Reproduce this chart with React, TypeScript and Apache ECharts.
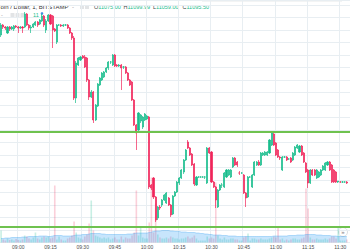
import React, { useEffect, useRef } from "react";
import * as echarts from "echarts";

// ---- Time axis (1-minute candles, first visible bar 08:52) ----
const START_MINUTE = 8 * 60 + 52;
const CATEGORY_COUNT = 163;
const timeLabels: string[] = Array.from({ length: CATEGORY_COUNT }, (_, i) => {
  const m = START_MINUTE + i;
  return `${String(Math.floor(m / 60)).padStart(2, "0")}:${String(m % 60).padStart(2, "0")}`;
});

// ---- OHLC (USD) ----
const opens = [
  11040, 11060, 11056, 11044, 11056, 11052, 11052, 11058, 11056, 11054,
  11056, 11056, 11082, 11060, 11054, 11056, 11060, 11066, 11062, 11068,
  11078, 11050, 11068, 11080, 11078, 11052, 11026, 11060, 11060, 11058,
  11060, 11060, 11054, 11044, 11034, 10914, 10980, 10990, 10998, 10996,
  10994, 10950, 10916, 10926, 10870, 10898, 10940, 10950, 10956, 10966,
  10974, 10986, 10980, 11000, 10980, 10978, 10980, 10976, 10976, 10964,
  10950, 10946, 10910, 10860, 10850, 10868, 10856, 10870, 10872, 10876,
  10740, 10754, 10716, 10674, 10696, 10700, 10710, 10704, 10714, 10700,
  10682, 10718, 10726, 10744, 10754, 10766, 10790, 10826, 10814, 10802,
  10782, 10740, 10756, 10756, 10756, 10756, 10744, 10814, 10806, 10746,
  10736, 10696, 10730, 10740, 10736, 10756, 10760, 10756, 10776, 10794,
  10786, 10764, 10764, 10760, 10724, 10716, 10756, 10736, 10760, 10780,
  10786, 10780, 10800, 10800, 10800, 10804, 10820, 10842, 10824, 10810,
  10796, 10770, 10796, 10796, 10792, 10794, 10790, 10800, 10814, 10806,
  10818, 10804, 10784, 10770, 10744, 10770, 10770, 10754, 10756, 10760,
  10770, 10770, 10780, 10786, 10780, 10770, 10766, 10746, 10746, 10746,
  10746, 10746,
];
const closes = [
  11060, 11056, 11054, 11056, 11052, 11056, 11058, 11056, 11054, 11056,
  11054, 11082, 11060, 11054, 11056, 11062, 11066, 11060, 11070, 11078,
  11060, 11068, 11080, 11062, 11050, 11048, 11060, 11060, 11058, 11060,
  11060, 11054, 11044, 11034, 10914, 10984, 10994, 10996, 10994, 10976,
  10950, 10916, 10926, 10870, 10900, 10942, 10954, 10964, 10966, 10974,
  10986, 10986, 11000, 10978, 10978, 10980, 10974, 10976, 10964, 10950,
  10940, 10910, 10860, 10844, 10884, 10880, 10876, 10882, 10878, 10736,
  10734, 10716, 10670, 10696, 10694, 10710, 10720, 10724, 10700, 10680,
  10718, 10726, 10746, 10754, 10770, 10790, 10810, 10814, 10800, 10780,
  10742, 10756, 10756, 10756, 10756, 10756, 10814, 10804, 10746, 10736,
  10710, 10730, 10740, 10740, 10764, 10770, 10770, 10770, 10794, 10780,
  10780, 10764, 10764, 10724, 10714, 10756, 10756, 10760, 10786, 10786,
  10780, 10804, 10804, 10806, 10806, 10830, 10844, 10820, 10800, 10796,
  10794, 10796, 10796, 10790, 10792, 10786, 10804, 10816, 10820, 10818,
  10800, 10786, 10766, 10744, 10770, 10760, 10760, 10770, 10766, 10770,
  10778, 10784, 10786, 10770, 10746, 10746, 10746, 10748, 10746, 10746,
  10746, 10744,
];
const lows = [
  11036, 11052, 11050, 11042, 11048, 11050, 11048, 11054, 11044, 11052,
  11044, 11054, 11058, 11050, 11044, 11054, 11058, 11056, 11060, 11066,
  11056, 11044, 11066, 11060, 11014, 11046, 11022, 11058, 11056, 11056,
  11058, 11052, 11042, 11030, 10910, 10904, 10978, 10988, 10992, 10974,
  10946, 10910, 10914, 10864, 10868, 10896, 10938, 10948, 10954, 10964,
  10970, 10982, 10978, 10976, 10976, 10976, 10930, 10972, 10962, 10948,
  10938, 10908, 10858, 10810, 10846, 10864, 10852, 10868, 10870, 10732,
  10730, 10712, 10666, 10670, 10690, 10696, 10708, 10702, 10698, 10676,
  10680, 10716, 10724, 10740, 10752, 10762, 10788, 10812, 10798, 10778,
  10738, 10738, 10754, 10754, 10754, 10752, 10742, 10802, 10744, 10734,
  10694, 10694, 10728, 10734, 10734, 10754, 10758, 10754, 10774, 10778,
  10776, 10760, 10762, 10722, 10696, 10714, 10754, 10734, 10758, 10778,
  10778, 10778, 10798, 10798, 10798, 10802, 10818, 10818, 10798, 10794,
  10790, 10768, 10794, 10788, 10790, 10784, 10788, 10798, 10812, 10804,
  10798, 10784, 10764, 10734, 10742, 10758, 10758, 10752, 10754, 10758,
  10768, 10768, 10778, 10768, 10744, 10744, 10744, 10744, 10744, 10744,
  10744, 10742,
];
const highs = [
  11064, 11062, 11058, 11058, 11058, 11058, 11060, 11060, 11058, 11058,
  11058, 11086, 11084, 11062, 11060, 11064, 11068, 11068, 11072, 11082,
  11080, 11072, 11082, 11082, 11080, 11054, 11062, 11062, 11062, 11062,
  11062, 11062, 11056, 11046, 11038, 10988, 10996, 10998, 11000, 11000,
  10996, 10952, 10930, 10928, 10902, 10944, 10956, 10966, 10968, 10976,
  10988, 10988, 11002, 11002, 10982, 10982, 10982, 10978, 10978, 10966,
  10952, 10948, 10912, 10862, 10886, 10882, 10878, 10884, 10880, 10878,
  10742, 10756, 10718, 10698, 10700, 10712, 10722, 10726, 10716, 10702,
  10720, 10728, 10748, 10756, 10772, 10792, 10812, 10830, 10816, 10804,
  10784, 10758, 10758, 10758, 10758, 10758, 10816, 10816, 10808, 10748,
  10738, 10732, 10742, 10744, 10766, 10772, 10772, 10772, 10796, 10796,
  10788, 10768, 10766, 10762, 10726, 10758, 10758, 10762, 10788, 10788,
  10790, 10806, 10806, 10808, 10808, 10832, 10846, 10848, 10826, 10812,
  10798, 10798, 10798, 10798, 10794, 10796, 10806, 10818, 10822, 10820,
  10820, 10806, 10786, 10772, 10772, 10772, 10772, 10772, 10768, 10772,
  10780, 10786, 10788, 10788, 10782, 10772, 10768, 10748, 10748, 10748,
  10748, 10748,
];

// ---- Volume (BTC) and its moving average ----
const volumes = [
  24, 6, 4, 8, 5, 6, 4, 7, 5, 4,
  6, 14, 12, 8, 6, 10, 20, 8, 6, 10,
  12, 10, 12, 8, 10, 114, 6, 12, 6, 4,
  4, 8, 10, 14, 42, 20, 10, 8, 6, 12,
  16, 38, 84, 24, 14, 12, 10, 8, 10, 8,
  10, 6, 8, 10, 6, 6, 12, 6, 10, 8,
  8, 14, 20, 104, 14, 30, 10, 8, 8, 40,
  130, 20, 78, 16, 10, 8, 8, 10, 8, 12,
  10, 8, 8, 6, 8, 8, 10, 12, 8, 10,
  14, 8, 4, 4, 4, 4, 12, 8, 10, 8,
  120, 14, 8, 6, 10, 6, 6, 8, 8, 6,
  6, 4, 4, 10, 12, 18, 4, 8, 8, 6,
  6, 8, 6, 6, 6, 8, 10, 12, 10, 30,
  6, 8, 4, 6, 4, 6, 8, 8, 6, 6,
  8, 10, 108, 68, 10, 6, 6, 8, 6, 6,
  6, 8, 6, 8, 12, 12, 8, 30, 4, 4,
  4, 6,
];
const volumeMA = [
  8, 8, 9, 9, 9, 10, 10, 10, 10, 10,
  11, 11, 11, 12, 12, 12, 12, 12, 13, 13,
  13, 13, 12, 12, 13, 14, 14, 14, 14, 13,
  13, 13, 13, 13, 14, 15, 15, 15, 16, 16,
  16, 17, 18, 18, 18, 18, 18, 17, 17, 16,
  16, 16, 16, 16, 16, 16, 16, 16, 16, 17,
  17, 17, 18, 19, 19, 19, 19, 19, 19, 20,
  21, 22, 23, 23, 23, 24, 24, 24, 24, 23,
  23, 22, 22, 22, 21, 21, 21, 20, 20, 20,
  20, 19, 19, 18, 18, 17, 17, 16, 16, 15,
  15, 15, 15, 14, 14, 14, 13, 13, 13, 13,
  12, 12, 12, 12, 12, 12, 12, 12, 12, 12,
  12, 12, 12, 12, 12, 12, 12, 13, 13, 13,
  13, 13, 13, 13, 14, 14, 14, 14, 15, 15,
  15, 15, 16, 16, 16, 16, 16, 15, 15, 15,
  14, 14, 14, 14, 13, 13, 13, 12, 12, 12,
  12, 12,
];

// ---- Horizontal levels ----
const levels = [10847, 10656];

// ---- Header texts ----
const titleText = "oin / Dollar, 1, BITSTAMP";
const ohlcLabels = ["O", "H", "L", "C"];
const ohlcValues = ["11075.00", "11099.99", "11059.00", "11095.50"];
const volumeLegend = "11";

const UP = "#19bd8c";
const DOWN = "#f0255a";
const VOL_UP = "rgba(27,190,143,0.24)";
const VOL_DOWN = "rgba(239,42,88,0.22)";
const GRID = "#e8eef2";
const FONT = "Liberation Sans";

const isQuarter = (v: string) => {
  const mm = Number(v.slice(3));
  return mm % 15 === 0;
};

export default function App() {
  const ref = useRef<HTMLDivElement>(null);

  useEffect(() => {
    if (!ref.current) return;
    const chart = echarts.init(ref.current, undefined, { renderer: "svg" });

    const ohlcX = [94, 123.5, 153, 182.5];
    const graphic: any[] = [
      { type: "rect", shape: { x: 202, y: 0, width: 140, height: 1.2 }, style: { fill: "#cfd2d4" } },
      {
        type: "text", x: 0.5, y: 7,
        style: { text: titleText, fontSize: 6, fill: "#333333", fontFamily: FONT, verticalAlign: "middle" },
      },
      {
        type: "text", x: 72, y: 7,
        style: { text: "-", fontSize: 6, fill: "#9a9a9a", fontFamily: FONT, verticalAlign: "middle" },
      },
      { type: "rect", shape: { x: 80, y: 5, width: 4, height: 4, r: 0.6 }, style: { fill: "#e2e4e6" } },
      { type: "rect", shape: { x: 85, y: 5, width: 4, height: 4, r: 0.6 }, style: { fill: "#e2e4e6" } },
      ...ohlcLabels.map((l, i) => ({
        type: "text", x: ohlcX[i], y: 7,
        style: {
          text: `{l|${l}}{v|${ohlcValues[i]}}`,
          fontFamily: FONT, verticalAlign: "middle",
          rich: {
            l: { fontSize: 5.5, fill: "#444444", fontFamily: FONT },
            v: { fontSize: 5.5, fill: UP, fontFamily: FONT },
          },
        },
      })),
      {
        type: "text", x: 1, y: 15,
        style: { text: "-", fontSize: 5.5, fill: "#9a9a9a", fontFamily: FONT, verticalAlign: "middle" },
      },
      { type: "rect", shape: { x: 10.5, y: 13, width: 4, height: 4, r: 0.6 }, style: { fill: "#e2e4e6" } },
      { type: "rect", shape: { x: 15.5, y: 13, width: 4, height: 4, r: 0.6 }, style: { fill: "#e2e4e6" } },
      { type: "rect", shape: { x: 20.5, y: 13, width: 4, height: 4, r: 0.6 }, style: { fill: "#e2e4e6" } },
      {
        type: "text", x: 33, y: 15,
        style: { text: volumeLegend, fontSize: 5.5, fill: UP, fontFamily: FONT, verticalAlign: "middle" },
      },
      { type: "circle", shape: { cx: 42, cy: 13.5, r: 1.3 }, style: { fill: "#3d8fe0" } },
      {
        type: "circle", shape: { cx: 343, cy: 232, r: 4.5 },
        style: { fill: "#ffffff", stroke: "#d3d6d8", lineWidth: 0.8 },
      },
      {
        type: "text", x: 343, y: 232,
        style: { text: "»", fontSize: 6, fill: "#777", fontFamily: FONT, align: "center", verticalAlign: "middle" },
      },
    ];

    const option: any = {
      animation: false,
      backgroundColor: "#ffffff",
      grid: [
        { left: 0, right: 0, top: 0, bottom: 7.5 },
        { left: 0, right: 0, top: 0, bottom: 7.5 },
      ],
      xAxis: [
        {
          type: "category",
          gridIndex: 0,
          data: timeLabels,
          boundaryGap: true,
          axisLine: { show: false },
          axisTick: { show: false },
          axisLabel: {
            interval: (_i: number, v: string) => isQuarter(v),
            fontSize: 5,
            color: "#4d4d4d",
            margin: 1.5,
            fontFamily: FONT,
          },
          splitLine: {
            show: true,
            interval: (_i: number, v: string) => isQuarter(v),
            lineStyle: { color: GRID, width: 1 },
          },
        },
        { type: "category", gridIndex: 1, data: timeLabels, boundaryGap: true, show: false },
      ],
      yAxis: [
        {
          type: "value",
          gridIndex: 0,
          min: 10625,
          max: 11110,
          interval: 25,
          axisLabel: { show: false },
          axisLine: { show: false },
          axisTick: { show: false },
          splitLine: { show: true, lineStyle: { color: GRID, width: 1 } },
        },
        { type: "value", gridIndex: 1, min: 0, max: 485, show: false, splitLine: { show: false } },
      ],
      series: [
        {
          type: "bar",
          xAxisIndex: 1,
          yAxisIndex: 1,
          barWidth: 1.6,
          silent: true,
          data: volumes.map((v, i) => ({
            value: v,
            itemStyle: { color: closes[i] >= opens[i] ? VOL_UP : VOL_DOWN },
          })),
        },
        {
          type: "line",
          xAxisIndex: 1,
          yAxisIndex: 1,
          symbol: "none",
          silent: true,
          data: volumeMA,
          lineStyle: { width: 0.6, color: "rgba(33,150,243,0.5)" },
          areaStyle: { color: "rgba(33,150,243,0.36)" },
        },
        {
          type: "candlestick",
          xAxisIndex: 0,
          yAxisIndex: 0,
          barWidth: 1.6,
          data: opens.map((o, i) => [o, closes[i], lows[i], highs[i]]),
          itemStyle: {
            color: UP,
            color0: DOWN,
            borderColor: UP,
            borderColor0: DOWN,
            borderWidth: 0.7,
          },
          markLine: {
            silent: true,
            symbol: ["none", "none"],
            label: { show: false },
            lineStyle: { color: "#6fc24f", width: 1.8, type: "solid" },
            data: levels.map((v) => ({ yAxis: v })),
          },
        },
      ],
      graphic,
    };

    chart.setOption(option);
    return () => chart.dispose();
  }, []);

  return (
    <div
      ref={ref}
      style={{ position: "fixed", left: 0, top: 0, width: 350, height: 250, background: "#fff" }}
    />
  );
}
